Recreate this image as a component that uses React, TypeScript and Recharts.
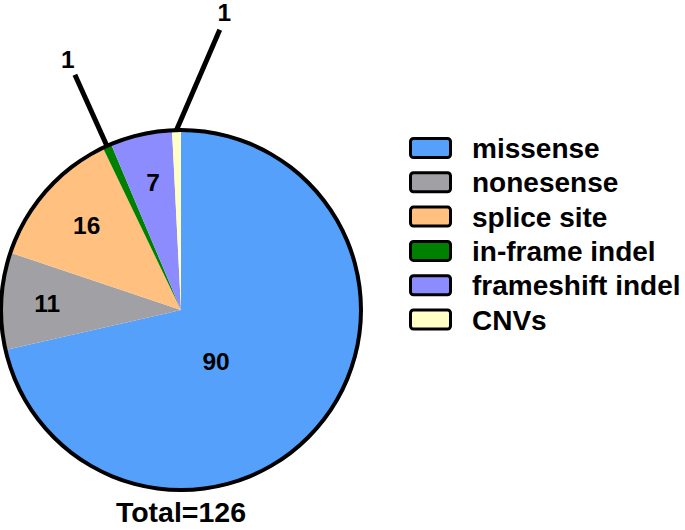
import { PieChart, Pie, Cell, Legend } from 'recharts'

const categories = ['missense', 'nonesense', 'splice site', 'in-frame indel', 'frameshift indel', 'CNVs']
const counts = [90, 11, 16, 1, 7, 1]
const colors = ['#55a0fa', '#a1a0a5', '#ffc080', '#008000', '#8c8cff', '#ffffc6']
const totalLabel = 'Total=126'

const data = categories.map((name, i) => ({ name, value: counts[i] }))
const ring = [{ name: 'outline', value: 1 }]

const CX = 181
const CY = 310
const R = 180
const RAD = Math.PI / 180
const FONT = '"Liberation Sans", Arial, sans-serif'

// per-slice label placement: angle offset from mid angle, radius; leader = outside callout
const labelSpots = [
  { d: -17, r: 62 },
  { d: 0, r: 134 },
  { d: -0.6, r: 127 },
  { d: 0, r: 275, leader: { d: 0, r: 258 } },
  { d: -0.5, r: 131 },
  { d: -9.7, r: 301, leader: { d: -9.3, r: 283 } },
]

const polar = (a: number, r: number) => ({ x: CX + r * Math.cos(a * RAD), y: CY - r * Math.sin(a * RAD) })

function renderLabel(props: any) {
  const { midAngle, index, value } = props
  const spot = labelSpots[index]
  const p = polar(midAngle + spot.d, spot.r)
  const text = (
    <text x={p.x} y={p.y + 8.8} textAnchor="middle" fontFamily={FONT} fontWeight="bold" fontSize={24.5} fill="#000">
      {value}
    </text>
  )
  if (!spot.leader) return <g key={index}>{text}</g>
  const s = polar(midAngle, R)
  const e = polar(midAngle + spot.leader.d, spot.leader.r)
  return (
    <g key={index}>
      <line x1={s.x} y1={s.y} x2={e.x} y2={e.y} stroke="#000" strokeWidth={5} />
      {text}
    </g>
  )
}

function LegendBox() {
  return (
    <svg width={276} height={210}>
      {categories.map((c, i) => {
        const y = 10.5 + i * 34.3
        return (
          <g key={c}>
            <rect x={1.5} y={y - 9} width={40} height={19} rx={3} fill={colors[i]} stroke="#000" strokeWidth={3} />
            <text x={63} y={y + 10.5} fontFamily={FONT} fontWeight="bold" fontSize={28} fill="#000">{c}</text>
          </g>
        )
      })}
    </svg>
  )
}

export default function App() {
  return (
    <div style={{ position: 'absolute', left: 0, top: 0, width: 685, height: 530, background: '#fff' }}>
      <PieChart width={685} height={530} margin={{ top: 0, right: 0, bottom: 0, left: 0 }}>
        <Pie
          data={data}
          dataKey="value"
          cx={CX}
          cy={CY}
          outerRadius={R}
          startAngle={90}
          endAngle={-270}
          stroke="none"
          label={renderLabel}
          labelLine={false}
          isAnimationActive={false}
        >
          {data.map((d, i) => <Cell key={d.name} fill={colors[i]} />)}
        </Pie>
        <Pie
          data={ring}
          dataKey="value"
          cx={CX}
          cy={CY}
          innerRadius={R - 2}
          outerRadius={R + 2}
          startAngle={90}
          endAngle={-270}
          fill="#000"
          stroke="none"
          isAnimationActive={false}
        />
        <Legend
          content={() => <LegendBox />}
          wrapperStyle={{ position: 'absolute', left: 409, top: 137, width: 276, height: 210 }}
        />
      </PieChart>
      <div
        style={{
          position: 'absolute', left: 81, width: 200, top: 496, textAlign: 'center',
          fontFamily: FONT, fontWeight: 'bold', fontSize: 28.5, lineHeight: '32px', color: '#000',
        }}
      >
        {totalLabel}
      </div>
    </div>
  )
}
